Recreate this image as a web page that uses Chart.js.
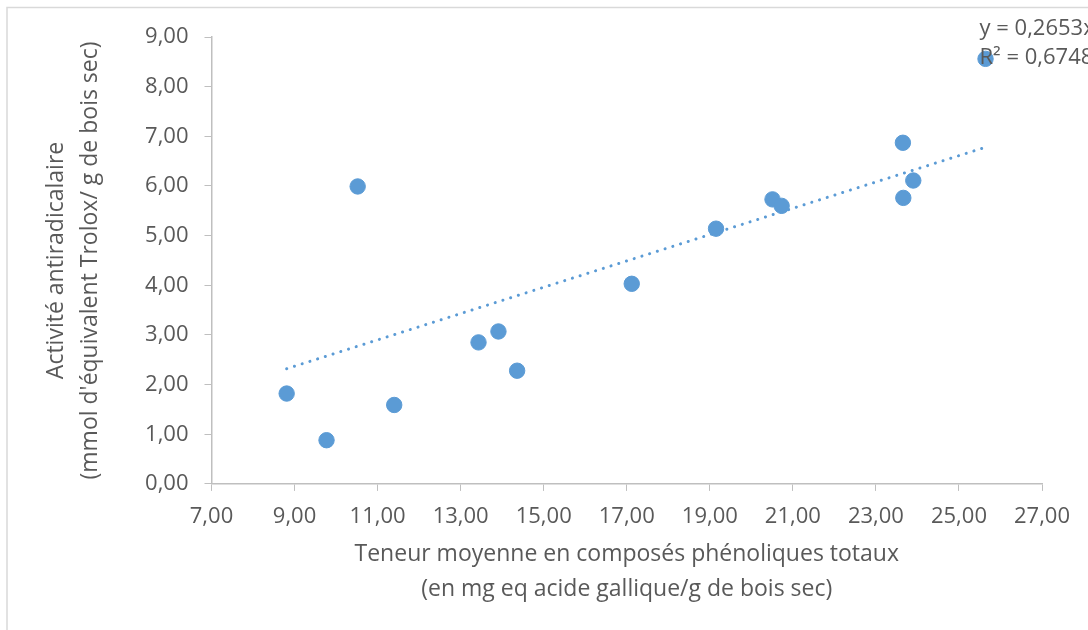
<!DOCTYPE html>
<html>
<head>
<meta charset="utf-8">
<script src="https://cdn.jsdelivr.net/npm/chart.js@4/dist/chart.umd.min.js"></script>
<style>
  body { margin: 0; background: #fff; }
  #wrap { width: 1088px; height: 630px; }
</style>
</head>
<body>
<div id="wrap"><canvas id="phenolChart" width="1088" height="630"></canvas></div>
<script>
// teneur en composés phénoliques (x) et activité antiradicalaire (y)
var phenols = [8.81, 9.77, 10.52, 11.40, 13.43, 13.91, 14.36, 17.12, 19.15, 20.51, 20.73, 23.65, 23.66, 23.90, 25.64];
var activite = [1.82, 0.88, 5.99, 1.59, 2.85, 3.07, 2.28, 4.03, 5.14, 5.73, 5.60, 6.87, 5.76, 6.11, 8.56];

// extrémités de la courbe de tendance
var trendX = [8.81, 25.64];
var trendY = [2.32, 6.78];
var trendLabel = ['y = 0,2653x', 'R² = 0,6748'];

var xTitle = ['Teneur moyenne en composés phénoliques totaux', '(en mg eq acide gallique/g de bois sec)'];
var yTitle = ['Activité antiradicalaire', "(mmol d'équivalent Trolox/ g de bois sec)"];

var bleu = '#5B9BD5';
var gris = '#595959';
var axe = '#BFBFBF';
var police = '"Open Sans", Lato, sans-serif';

function virgule(v) {
    return Number(v).toFixed(2).replace('.', ',');
}

var points = phenols.map(function (x, i) { return { x: x, y: activite[i] }; });
var tendance = trendX.map(function (x, i) { return { x: x, y: trendY[i] }; });

// cadre gris + étiquette de la tendance
var decor = {
    id: 'decor',
    beforeDraw: function (chart) {
        var c = chart.ctx;
        c.save();
        c.strokeStyle = '#D9D9D9';
        c.lineWidth = 1.5;
        c.beginPath();
        c.moveTo(7, 630);
        c.lineTo(7, 7.5);
        c.lineTo(1088, 7.5);
        c.stroke();
        c.restore();
    },
    afterDatasetsDraw: function (chart) {
        var c = chart.ctx;
        var xs = chart.scales.x;
        var ys = chart.scales.y;
        var px = xs.getPixelForValue(trendX[1]) - 6;
        var py = ys.getPixelForValue(trendY[1]);
        c.save();
        c.fillStyle = gris;
        c.font = '22px ' + police;
        c.textBaseline = 'middle';
        c.fillText(trendLabel[0], px, py - 119);
        c.fillText(trendLabel[1], px, py - 90);
        c.restore();
    }
};

var ctx = document.getElementById('phenolChart').getContext('2d');
var chart = new Chart(ctx, {
    type: 'scatter',
    data: {
        datasets: [{
            label: 'Activité',
            data: points,
            backgroundColor: bleu,
            borderColor: bleu,
            pointRadius: 7.7,
            pointHoverRadius: 7.7,
            order: 1
        }, {
            label: 'Tendance',
            type: 'line',
            data: tendance,
            borderColor: bleu,
            borderWidth: 3,
            borderDash: [0.1, 8],
            borderCapStyle: 'round',
            pointRadius: 0,
            fill: false,
            order: 2
        }]
    },
    options: {
        responsive: false,
        animation: false,
        layout: { padding: { left: 39, right: 46, top: 37, bottom: 24 } },
        plugins: {
            legend: { display: false },
            tooltip: { enabled: false }
        },
        scales: {
            x: {
                type: 'linear',
                min: 7,
                max: 27,
                ticks: { stepSize: 2, color: gris, font: { family: police, size: 22, lineHeight: 1.0 }, padding: 15, callback: virgule },
                grid: { drawOnChartArea: false, drawTicks: true, tickLength: 7, color: axe },
                border: { color: axe, width: 1.5 },
                title: { display: true, text: xTitle, color: gris, font: { family: police, size: 23, lineHeight: 1.48 }, padding: { top: -5, bottom: 0 } }
            },
            y: {
                min: 0,
                max: 9,
                ticks: { stepSize: 1, color: gris, font: { family: police, size: 22 }, padding: 16, callback: virgule },
                grid: { drawOnChartArea: false, drawTicks: true, tickLength: 7, color: axe },
                border: { color: axe, width: 1.5 },
                title: { display: true, text: yTitle, color: gris, font: { family: police, size: 23, lineHeight: 1.48 }, padding: { top: 0, bottom: 22 } }
            }
        }
    },
    plugins: [decor]
});
</script>
</body>
</html>
